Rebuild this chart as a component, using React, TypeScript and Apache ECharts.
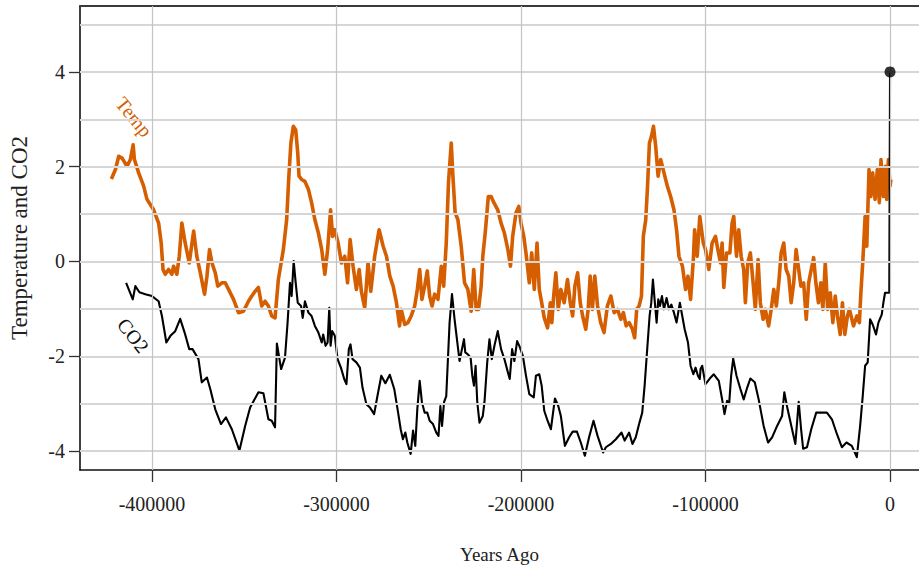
import React, { useEffect, useRef } from "react";
import * as echarts from "echarts";

const tempYears = [
  -422000, -419800, -418000, -416200, -413500, -411700, -410200, -409500, -407200, -404500,
  -402700, -400900, -399100, -396400, -395000, -394000, -392800, -391000, -389200, -388300,
  -386500, -385200, -383800, -382000, -379800, -377400, -375700, -373800, -371500, -370200,
  -368800, -367500, -365700, -364300, -362100, -360300, -358500, -355800, -353100, -350400,
  -347700, -345900, -344100, -342300, -340500, -338700, -336900, -335100, -333300, -331500,
  -328800, -327000, -325800, -324700, -323400, -322100, -321000, -320300, -318900, -317100,
  -315200, -313500, -311700, -309800, -308000, -306300, -304800, -303200, -302100, -300900,
  -299100, -297300, -295500, -294000, -292600, -291000, -289200, -287700, -286500, -284700,
  -282900, -281400, -279300, -276900, -274700, -272900, -271100, -269300, -267500, -265800,
  -264900, -263000, -261300, -259500, -257600, -256200, -254900, -253700, -252200, -250800,
  -249500, -248200, -246800, -245000, -243200, -241900, -240500, -239300, -237800, -236900,
  -235700, -234200, -232400, -230600, -228800, -227000, -225600, -224300, -223000, -221600,
  -220700, -219400, -217700, -216200, -214700, -212600, -210800, -209000, -207100, -205700,
  -204500, -202700, -201200, -200000, -198500, -197300, -195500, -194200, -192800, -191300,
  -190100, -188800, -187400, -185600, -184100, -183300, -182300, -181100, -179800, -178400,
  -176600, -174800, -173300, -172000, -170800, -169300, -167900, -166600, -164900, -163600,
  -162500, -161300, -160000, -158500, -156800, -155000, -153200, -151300, -149500, -147700,
  -145900, -144500, -143000, -141400, -139600, -138400, -137300, -136000, -134700, -133700,
  -132400, -131500, -130400, -129300, -128200, -127000, -125700, -124300, -122500, -120700,
  -118900, -117100, -115700, -114400, -112500, -110800, -109500, -108100, -106600, -105900,
  -104500, -103100, -101200, -100000, -98200, -96400, -94600, -93300, -91900, -91000,
  -90100, -88600, -86800, -85600, -84700, -83200, -82000, -80700, -79300, -78400,
  -77100, -75700, -74200, -73000, -71500, -70300, -68800, -67600, -65800, -64400,
  -63000, -61600, -60300, -59000, -57600, -56300, -54900, -53600, -52200, -50900,
  -49500, -48300, -46800, -45400, -44100, -42700, -41400, -40200, -38800, -37500,
  -36400, -35100, -33800, -32400, -31000, -29700, -28500, -27000, -25800, -24500,
  -23100, -22000, -19800, -18000, -16600, -15800, -14700, -13500, -12600, -11400,
  -10400, -9400, -8100, -6900, -5800, -4900, -3600, -2500, -1800, -900,
  0, 500,
];
const tempValues = [
  1.74, 1.94, 2.22, 2.18, 2.01, 2.15, 2.46, 2.15, 1.87, 1.59,
  1.31, 1.2, 1.09, 0.81, 0.39, -0.17, -0.27, -0.17, -0.27, -0.1,
  -0.27, 0.11, 0.81, 0.39, -0.03, 0.64, 0.11, -0.24, -0.69, -0.31,
  0.25, -0.03, -0.24, -0.52, -0.45, -0.45, -0.59, -0.8, -1.08, -1.05,
  -0.84, -0.73, -0.63, -0.55, -0.94, -0.84, -0.94, -1.15, -1.19, -0.38,
  0.25, 0.88, 1.8, 2.5, 2.85, 2.78, 2.29, 1.8, 1.73, 1.69,
  1.52, 1.24, 0.88, 0.6, 0.25, -0.27, 0.25, 1.09, 0.53, 0.67,
  0.39, -0.03, 0.11, -0.45, 0.46, -0.1, -0.59, -0.17, -0.63, -0.98,
  -0.03, -0.63, 0.11, 0.67, 0.32, 0.11, -0.31, -0.52, -0.87, -1.36,
  -1.01, -1.33, -1.29, -1.15, -0.94, -0.59, -0.17, -0.8, -0.52, -0.2,
  -0.73, -0.94, -0.69, -0.8, -0.1, -0.52, 0.39, 1.66, 2.5, 1.8,
  1.03, 0.88, 0.32, -0.45, -0.59, -1.05, -0.17, -1.01, -1.01, -0.52,
  0.11, 0.6, 1.37, 1.37, 1.24, 1.09, 0.81, 0.6, 0.25, -0.1,
  0.53, 1.03, 1.16, 0.81, 0.53, 0.18, -0.45, 0.18, -0.59, 0.39,
  -0.59, -0.87, -1.19, -1.4, -0.87, -1.29, -0.73, -0.24, -1.01, -0.59,
  -0.87, -0.38, -0.87, -1.15, -0.52, -0.24, -0.87, -1.15, -1.43, -1.01,
  -0.31, -1.01, -0.31, -0.94, -1.29, -1.5, -0.94, -0.73, -1.08, -1.01,
  -1.22, -1.08, -1.36, -1.29, -1.43, -1.61, -1.01, -0.94, -0.73, 0.53,
  0.88, 1.52, 2.5, 2.64, 2.85, 2.43, 1.8, 2.15, 1.87, 1.59,
  1.37, 1.09, 0.67, 0.11, -0.1, -0.59, -0.31, -0.8, 0.04, 0.67,
  0.11, 0.95, 0.39, 0.25, -0.17, 0.39, 0.53, 0.25, -0.03, 0.39,
  -0.55, 0.18, 0.18, 0.81, 0.95, 0.11, 0.67, 0.11, -0.17, -0.87,
  -0.03, 0.18, -0.45, -1.01, 0.04, -0.87, -1.22, -1.01, -1.36, -1.01,
  -0.59, -0.94, -0.45, 0.18, 0.39, -0.17, -0.31, -0.87, -0.45, 0.25,
  -0.17, -0.52, -0.45, -1.22, -0.45, -0.17, 0.08, -0.45, -0.87, -0.45,
  -1.01, -0.03, -1.01, -0.66, -1.29, -0.73, -1.15, -1.54, -0.87, -1.54,
  -1.15, -1.01, -1.36, -1.15, -1.29, -0.66, 0.04, 0.95, 0.32, 1.94,
  1.37, 1.87, 1.31, 1.94, 1.24, 2.15, 1.37, 2.01, 1.31, 2.15,
  1.59, 1.73,
];

const co2Years = [
  -414000, -410400, -409000, -406800, -403600, -400000, -396400, -394600, -392200, -390000,
  -387400, -384700, -382300, -379800, -378000, -374800, -373000, -370200, -368400, -365700,
  -362600, -359900, -356700, -352600, -349500, -346800, -342300, -339600, -336900, -335100,
  -333300, -332300, -330000, -327900, -326500, -325200, -324300, -323200, -322100, -321000,
  -319200, -318300, -317100, -315200, -313500, -311700, -309800, -308000, -307200, -305900,
  -304800, -303900, -303200, -302300, -300900, -299400, -297600, -295800, -294600, -293300,
  -292400, -291300, -289200, -287300, -285900, -283800, -281900, -279600, -277800, -275700,
  -273500, -271100, -268700, -266600, -265200, -264000, -262700, -261600, -259800, -258500,
  -257300, -256200, -254900, -253700, -252200, -250800, -249500, -247700, -245900, -244700,
  -243700, -242800, -241700, -240500, -239600, -238700, -237400, -236000, -234500, -233300,
  -232000, -230900, -230200, -228800, -227300, -226400, -225500, -224600, -223700, -222500,
  -220700, -219800, -218300, -217100, -215800, -214400, -212600, -210800, -209000, -207100,
  -206100, -204800, -203600, -202100, -200900, -199000, -197300, -195500, -193100, -191900,
  -190100, -188800, -187400, -185600, -183800, -181600, -179800, -178400, -176200, -173900,
  -172000, -169700, -167600, -165400, -163100, -160700, -158500, -155500, -154000, -151300,
  -148600, -145500, -143800, -141400, -139600, -137800, -136000, -134300, -133000, -131600,
  -130300, -129400, -128500, -127600, -126500, -125600, -124700, -123600, -122500, -121100,
  -119800, -118500, -117100, -115700, -113900, -112600, -111300, -109500, -108100, -106600,
  -105400, -104100, -103100, -102700, -101800, -100000, -97700, -95500, -92800, -91000,
  -89700, -88300, -87200, -86100, -85000, -83200, -81100, -79300, -77400, -75700,
  -73300, -71200, -68500, -66100, -63900, -61200, -58500, -57300, -55500, -53100,
  -51300, -49500, -48200, -47100, -45000, -42700, -40000, -37800, -34200, -31500,
  -28800, -26100, -23600, -20700, -18000, -16200, -14800, -13500, -12100, -10800,
  -9400, -7600, -6300, -4500, -3600, -2700, -400, 0,
];
const co2Values = [
  -0.45, -0.8, -0.52, -0.65, -0.69, -0.73, -0.84, -1.15, -1.71, -1.57,
  -1.47, -1.21, -1.5, -1.85, -1.85, -2.06, -2.55, -2.45, -2.69, -3.12,
  -3.43, -3.29, -3.54, -3.99, -3.47, -3.08, -2.76, -2.78, -3.33, -3.36,
  -3.5, -1.73, -2.27, -2.03, -1.29, -0.45, -0.73, 0.01, -0.45, -0.87,
  -0.94, -1.19, -0.84, -1.08, -1.15, -1.36, -1.5, -1.71, -1.54, -1.78,
  -1.71, -0.98, -1.78, -1.47, -1.57, -2.06, -2.24, -2.48, -2.59, -1.85,
  -1.75, -2.06, -2.13, -2.24, -2.66, -3.01, -3.08, -3.22, -2.84, -2.41,
  -2.57, -2.39, -2.69, -3.19, -3.54, -3.75, -3.61, -3.82, -4.06, -3.57,
  -3.89, -3.12, -2.52, -2.97, -3.19, -3.19, -3.36, -3.43, -3.61, -3.68,
  -3.05, -3.47, -2.97, -2.84, -2.06, -1.29, -0.69, -1.22, -1.71, -2.1,
  -1.85, -1.64, -1.92, -1.96, -2.03, -2.41, -2.62, -2.2, -2.97, -3.4,
  -3.26, -2.97, -2.13, -1.64, -2.06, -1.78, -1.47, -1.85, -2.06, -2.34,
  -2.48, -1.85, -2.1, -1.68, -1.78, -1.99, -2.41, -2.8, -2.87, -2.41,
  -2.38, -2.62, -3.15, -3.36, -3.54, -2.89, -3.05, -3.26, -3.89, -3.71,
  -3.59, -3.59, -3.82, -4.1, -3.71, -3.36, -3.68, -4.03, -3.92, -3.85,
  -3.75, -3.61, -3.78, -3.61, -3.85, -3.71, -3.43, -3.19, -2.62, -1.85,
  -1.15, -0.87, -0.38, -0.8, -1.29, -0.8, -0.94, -0.73, -1.01, -0.77,
  -1.01, -0.91, -1.08, -1.29, -0.87, -1.15, -1.43, -1.71, -2.2, -2.38,
  -2.24, -2.41, -2.48, -2.27, -2.2, -2.59, -2.47, -2.38, -2.52, -2.91,
  -3.22, -2.94, -3.01, -2.41, -2.05, -2.41, -2.69, -2.91, -2.66, -2.47,
  -2.55, -2.91, -3.47, -3.82, -3.71, -3.47, -3.26, -2.76, -3.12, -3.54,
  -3.85, -2.96, -3.54, -3.95, -3.92, -3.54, -3.19, -3.19, -3.19, -3.33,
  -3.64, -3.92, -3.82, -3.89, -4.13, -3.47, -2.84, -2.2, -2.13, -1.22,
  -1.33, -1.54, -1.29, -1.12, -0.87, -0.66, -0.66, 4.0,
];

const xTickValues = [-400000, -300000, -200000, -100000, 0];
const yTickValues = [-4, -2, 0, 2, 4];
const yGridValues = [-4, -3, -2, -1, 0, 1, 2, 3, 4, 5];

const X_MIN = -439000;
const X_MAX = 15700;
const Y_MIN = -4.4;
const Y_MAX = 5.39;

const FONT = "'Liberation Serif', 'DejaVu Serif', serif";
const ORANGE = "#D55E00";

export default function App() {
  const ref = useRef<HTMLDivElement>(null);

  useEffect(() => {
    if (!ref.current) return;
    const chart = echarts.init(ref.current, undefined, { renderer: "svg" });

    const tempData = tempYears.map((y, i) => [y, tempValues[i]]);
    const co2Data = co2Years.map((y, i) => [y, co2Values[i]]);
    const lastIdx = co2Years.length - 1;

    const gridLines: any[] = [
      ...yGridValues.map((v) => ({
        yAxis: v,
        lineStyle: { color: "#d6d6d6", width: 2, type: "solid" },
      })),
      ...xTickValues.map((v) => ({
        xAxis: v,
        lineStyle: { color: "#c4c4c4", width: 1.2, type: "solid" },
      })),
    ];

    chart.setOption({
      animation: false,
      backgroundColor: "#ffffff",
      grid: { left: 78, right: 0, top: 6, bottom: 98, containLabel: false },
      xAxis: [
        {
          type: "value",
          min: X_MIN,
          max: X_MAX,
          position: "bottom",
          name: "Years Ago",
          nameLocation: "middle",
          nameGap: 75,
          nameTextStyle: { fontFamily: FONT, fontSize: 19, color: "#222" },
          axisLine: { show: true, onZero: false, lineStyle: { color: "#111", width: 1.6 } },
          axisTick: {
            show: true,
            length: 12,
            customValues: xTickValues,
            lineStyle: { color: "#333", width: 1.3 },
          },
          axisLabel: {
            show: true,
            customValues: xTickValues,
            margin: 24,
            fontFamily: FONT,
            fontSize: 20,
            color: "#222",
            formatter: (v: number) => String(v),
          },
          splitLine: { show: false },
        },
        {
          type: "value",
          min: X_MIN,
          max: X_MAX,
          position: "top",
          axisLine: { show: true, onZero: false, lineStyle: { color: "#3a3a3a", width: 2 } },
          axisTick: { show: false },
          axisLabel: { show: false },
          splitLine: { show: false },
        },
      ],
      yAxis: {
        type: "value",
        min: Y_MIN,
        max: Y_MAX,
        name: "Temperature and CO2",
        nameLocation: "middle",
        nameGap: 49,
        nameRotate: 90,
        nameTextStyle: { fontFamily: FONT, fontSize: 23, color: "#222" },
        axisLine: { show: true, onZero: false, lineStyle: { color: "#111", width: 1.6 } },
        axisTick: {
          show: true,
          length: 11,
          customValues: yTickValues,
          lineStyle: { color: "#333", width: 1.3 },
        },
        axisLabel: {
          show: true,
          customValues: yTickValues,
          margin: 15,
          fontFamily: FONT,
          fontSize: 20,
          color: "#222",
          formatter: (v: number) => String(v),
        },
        splitLine: { show: false },
      },
      series: [
        {
          type: "line",
          name: "grid",
          data: [],
          z: 0,
          silent: true,
          markLine: {
            silent: true,
            symbol: ["none", "none"],
            label: { show: false },
            data: gridLines,
            animation: false,
          },
        },
        {
          type: "line",
          name: "Temp",
          data: tempData,
          showSymbol: false,
          symbol: "none",
          z: 3,
          lineStyle: { color: ORANGE, width: 3.6, join: "round" },
        },
        {
          type: "line",
          name: "CO2",
          data: co2Data,
          showSymbol: false,
          symbol: "none",
          z: 4,
          lineStyle: { color: "#000", width: 2.1, join: "round" },
        },
        {
          type: "scatter",
          name: "CO2 now",
          data: [[co2Years[lastIdx], co2Values[lastIdx]]],
          symbol: "circle",
          symbolSize: 11,
          z: 5,
          itemStyle: { color: "#000" },
        },
      ],
    });

    const tPos = chart.convertToPixel({ gridIndex: 0 }, [-409700, 3.05]) as number[];
    const cPos = chart.convertToPixel({ gridIndex: 0 }, [-410200, -1.56]) as number[];
    chart.setOption({
      graphic: [
        {
          type: "text",
          x: tPos[0],
          y: tPos[1],
          rotation: -0.88,
          style: {
            text: "Temp",
            fill: ORANGE,
            font: `20px ${FONT}`,
            align: "center",
            verticalAlign: "middle",
          },
        },
        {
          type: "text",
          x: cPos[0],
          y: cPos[1],
          rotation: -0.9,
          style: {
            text: "CO2",
            fill: "#111",
            font: `20px ${FONT}`,
            align: "center",
            verticalAlign: "middle",
          },
        },
      ],
    });

    return () => chart.dispose();
  }, []);

  return (
    <div
      ref={ref}
      style={{ position: "fixed", left: 0, top: 0, width: 919, height: 569 }}
    />
  );
}
